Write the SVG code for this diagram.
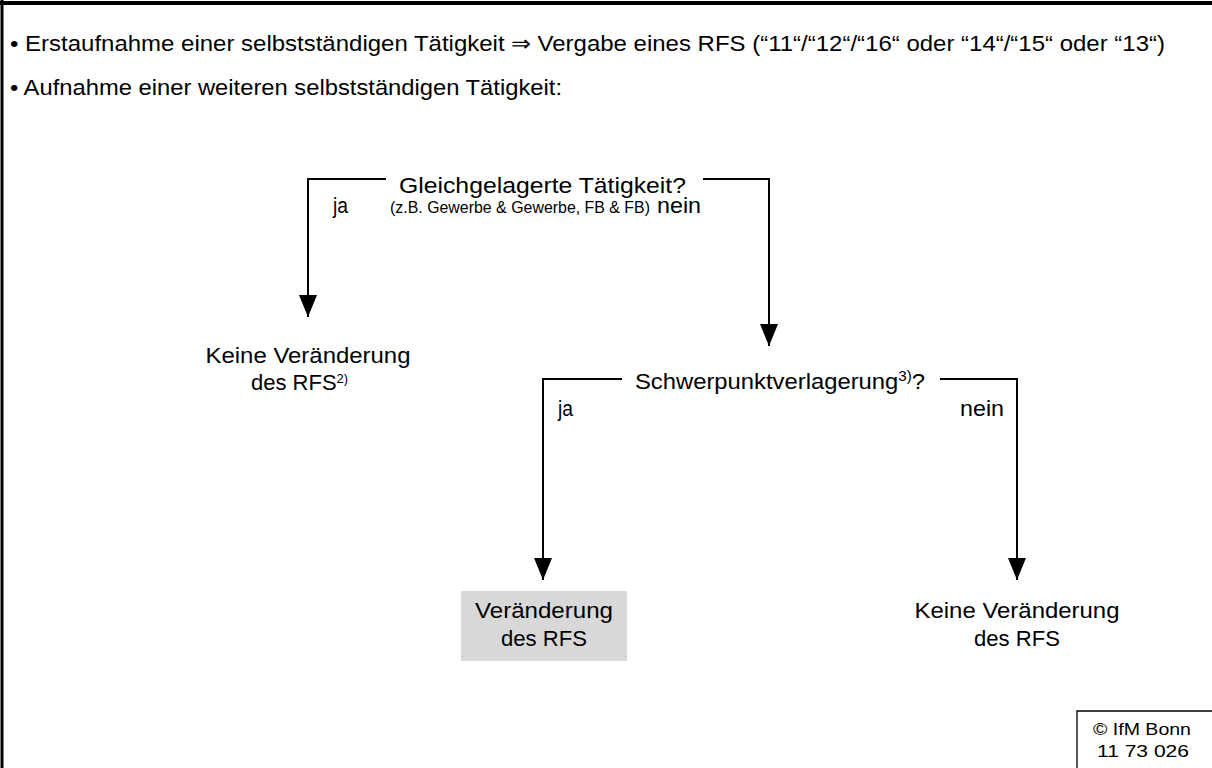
<svg xmlns="http://www.w3.org/2000/svg" width="1212" height="768" viewBox="0 0 1212 768">
<style>
text{font-family:"Liberation Sans",Arial,sans-serif;fill:#000}
.t{font-size:22px}
.s{font-size:16px}
.c{font-size:17px}
.m{text-anchor:middle}
.ln{stroke:#000;stroke-width:2;fill:none}
.ar{stroke:#000;stroke-width:2;fill:none;marker-end:url(#ah)}
</style>
<defs>
<marker id="ah" markerUnits="userSpaceOnUse" markerWidth="22" markerHeight="18" refX="22" refY="9" orient="auto">
<path d="M0,0 L22,9 L0,18 Z" fill="#000"/>
</marker>
</defs>
<rect width="1212" height="768" fill="#fff"/>
<g id="frame">
<line x1="0" y1="3" x2="1212" y2="3" stroke="#000" stroke-width="4"/>
<line x1="2" y1="0" x2="2" y2="768" stroke="#000" stroke-width="3"/>
</g>
<g id="header">
<text class="t" x="10" y="51" textLength="1155" lengthAdjust="spacingAndGlyphs">• Erstaufnahme einer selbstständigen Tätigkeit ⇒ Vergabe eines RFS (“11“/“12“/“16“ oder “14“/“15“ oder “13“)</text>
<text class="t" x="10" y="95" textLength="552" lengthAdjust="spacingAndGlyphs">• Aufnahme einer weiteren selbstständigen Tätigkeit:</text>
</g>
<g id="connectors">
<polyline class="ln" points="386,179 308,179 308,300"/>
<line class="ar" x1="308" y1="290" x2="308" y2="317"/>
<polyline class="ln" points="703,179 769,179 769,320"/>
<line class="ar" x1="769" y1="320" x2="769" y2="346"/>
<polyline class="ln" points="622,379 543,379 543,550"/>
<line class="ar" x1="543" y1="550" x2="543" y2="580"/>
<polyline class="ln" points="940,379 1017,379 1017,550"/>
<line class="ar" x1="1017" y1="550" x2="1017" y2="580"/>
</g>
<g id="decision1">
<text class="t" x="399" y="193" textLength="287" lengthAdjust="spacingAndGlyphs">Gleichgelagerte Tätigkeit?</text>
<text class="s" x="390" y="213" textLength="260" lengthAdjust="spacingAndGlyphs">(z.B. Gewerbe &amp; Gewerbe, FB &amp; FB)</text>
<text class="t" x="333" y="213" textLength="15" lengthAdjust="spacingAndGlyphs">ja</text>
<text class="t" x="657" y="213" textLength="44" lengthAdjust="spacingAndGlyphs">nein</text>
</g>
<g id="result1">
<text class="t m" x="308" y="363" textLength="205" lengthAdjust="spacingAndGlyphs">Keine Veränderung</text>
<text class="t" x="251" y="390">des RFS<tspan font-size="13" dy="-7">2)</tspan></text>
</g>
<g id="decision2">
<text class="t" x="635" y="389" textLength="290" lengthAdjust="spacingAndGlyphs">Schwerpunktverlagerung<tspan font-size="14" dy="-8">3)</tspan><tspan dy="8">?</tspan></text>
<text class="t" x="558" y="416" textLength="15" lengthAdjust="spacingAndGlyphs">ja</text>
<text class="t" x="960" y="416" textLength="44" lengthAdjust="spacingAndGlyphs">nein</text>
</g>
<g id="result2">
<rect x="461" y="591" width="166" height="70" fill="#d8d8d8"/>
<text class="t m" x="544" y="618" textLength="138" lengthAdjust="spacingAndGlyphs">Veränderung</text>
<text class="t m" x="544" y="646" textLength="86" lengthAdjust="spacingAndGlyphs">des RFS</text>
</g>
<g id="result3">
<text class="t m" x="1017" y="618" textLength="205" lengthAdjust="spacingAndGlyphs">Keine Veränderung</text>
<text class="t m" x="1017" y="646" textLength="86" lengthAdjust="spacingAndGlyphs">des RFS</text>
</g>
<g id="copyright">
<polyline points="1077,768 1077,711 1212,711" stroke="#000" stroke-width="1.3" fill="none"/>
<text class="c" x="1093" y="735" textLength="98" lengthAdjust="spacingAndGlyphs">© IfM Bonn</text>
<text class="c" x="1097" y="757" textLength="92" lengthAdjust="spacingAndGlyphs">11 73 026</text>
</g>
</svg>
